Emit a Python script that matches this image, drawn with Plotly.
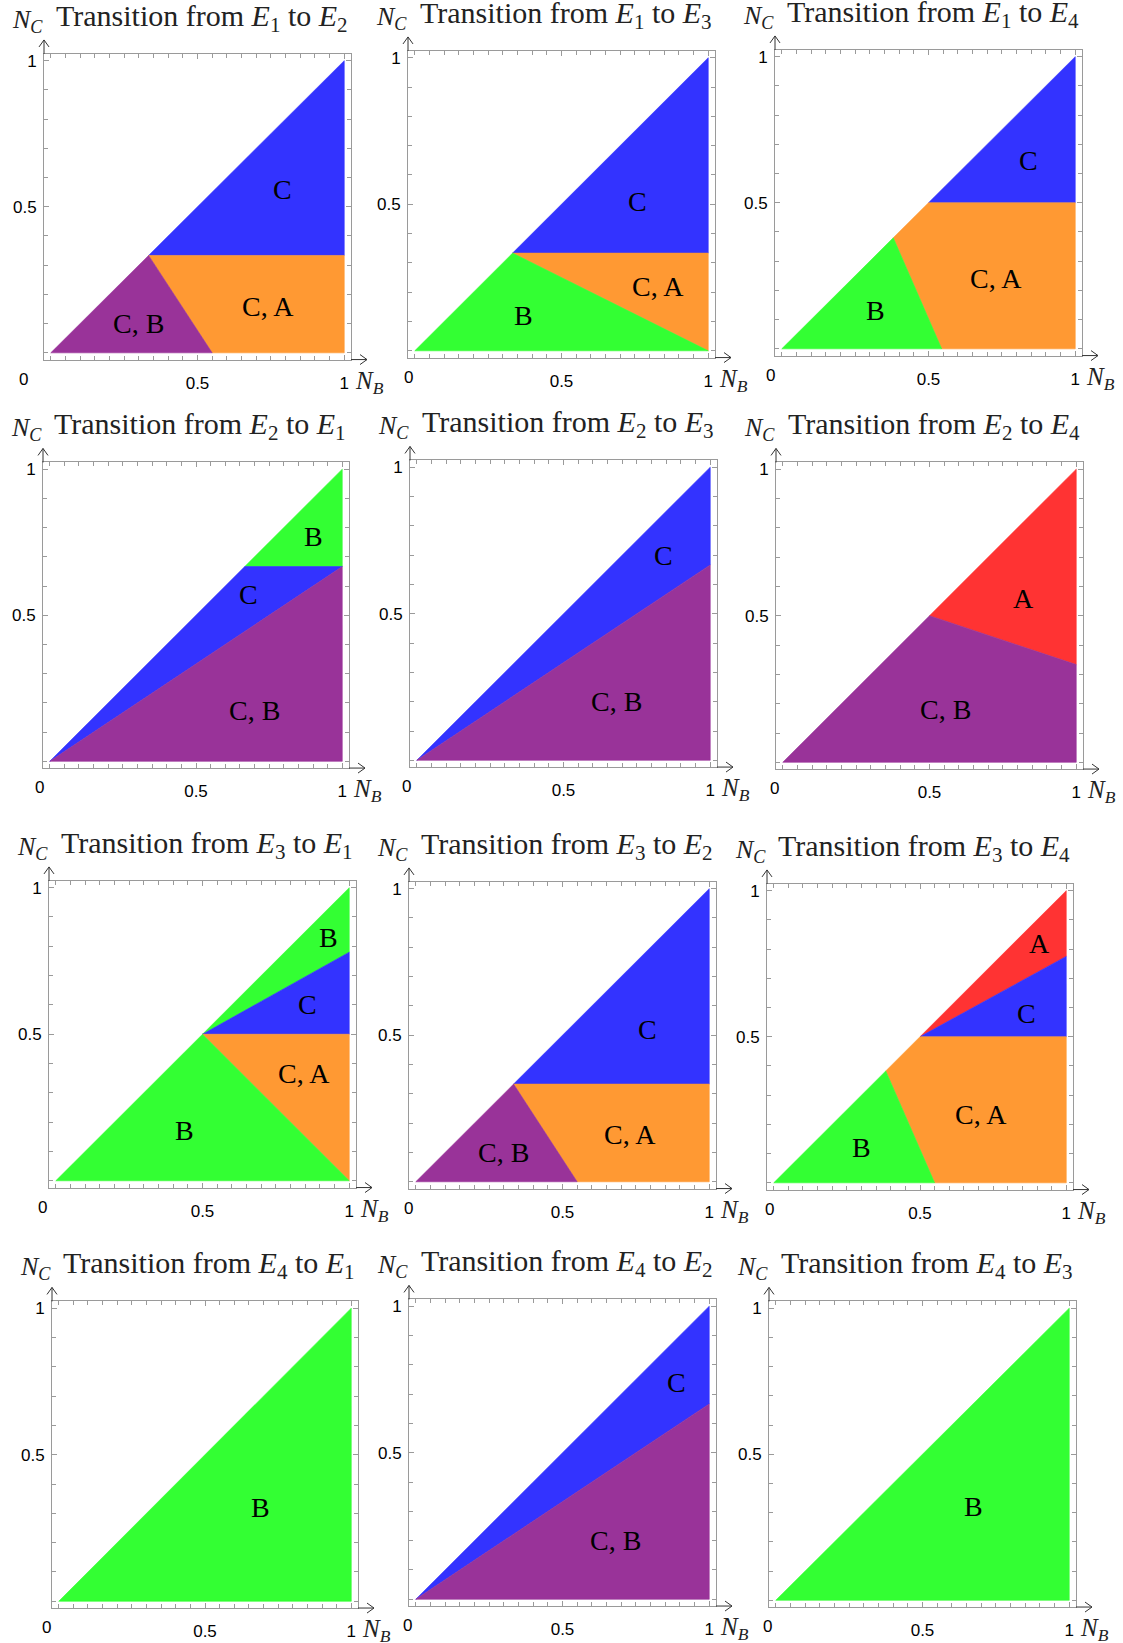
import plotly.graph_objects as go

W, H = 1123, 1643

# ---------------- data ----------------
# panel titles: (from, to)
TRANSITIONS = [("1", "2"), ("1", "3"), ("1", "4"),
               ("2", "1"), ("2", "3"), ("2", "4"),
               ("3", "1"), ("3", "2"), ("3", "4"),
               ("4", "1"), ("4", "2"), ("4", "3")]

# region polygons (N_B, N_C vertices) per panel
R_E1_E2 = [("C", [(1/3, 1/3), (1, 1), (1, 1/3)]),
           ("C, A", [(1/3, 1/3), (1, 1/3), (1, 0), (0.55, 0)]),
           ("C, B", [(0, 0), (1/3, 1/3), (0.55, 0)])]
R_E1_E3 = [("C", [(1/3, 1/3), (1, 1), (1, 1/3)]),
           ("C, A", [(1/3, 1/3), (1, 1/3), (1, 0)]),
           ("B", [(0, 0), (1/3, 1/3), (1, 0)])]
R_E1_E4 = [("C", [(0.5, 0.5), (1, 1), (1, 0.5)]),
           ("C, A", [(0.38, 0.38), (0.5, 0.5), (1, 0.5), (1, 0), (0.545, 0)]),
           ("B", [(0, 0), (0.38, 0.38), (0.545, 0)])]
R_E2_E1 = [("B", [(2/3, 2/3), (1, 1), (1, 2/3)]),
           ("C", [(0, 0), (2/3, 2/3), (1, 2/3)]),
           ("C, B", [(0, 0), (1, 2/3), (1, 0)])]
R_E2_E3 = [("C", [(0, 0), (1, 1), (1, 2/3)]),
           ("C, B", [(0, 0), (1, 2/3), (1, 0)])]
R_E2_E4 = [("A", [(0.5, 0.5), (1, 1), (1, 1/3)]),
           ("C, B", [(0, 0), (0.5, 0.5), (1, 1/3), (1, 0)])]
R_E3_E1 = [("B", [(0.5, 0.5), (1, 1), (1, 0.78)]),
           ("C", [(0.5, 0.5), (1, 0.78), (1, 0.5)]),
           ("C, A", [(0.5, 0.5), (1, 0.5), (1, 0)]),
           ("B", [(0, 0), (0.5, 0.5), (1, 0)])]
R_E3_E2 = [("C", [(1/3, 1/3), (1, 1), (1, 1/3)]),
           ("C, A", [(1/3, 1/3), (1, 1/3), (1, 0), (0.55, 0)]),
           ("C, B", [(0, 0), (1/3, 1/3), (0.55, 0)])]
R_E3_E4 = [("A", [(0.5, 0.5), (1, 1), (1, 0.775)]),
           ("C", [(0.5, 0.5), (1, 0.775), (1, 0.5)]),
           ("C, A", [(0.383, 0.383), (0.5, 0.5), (1, 0.5), (1, 0), (0.55, 0)]),
           ("B", [(0, 0), (0.383, 0.383), (0.55, 0)])]
R_E4_E1 = [("B", [(0, 0), (1, 1), (1, 0)])]
R_E4_E2 = [("C", [(0, 0), (1, 1), (1, 2/3)]),
           ("C, B", [(0, 0), (1, 2/3), (1, 0)])]
R_E4_E3 = [("B", [(0, 0), (1, 1), (1, 0)])]

REGIONS = [R_E1_E2, R_E1_E3, R_E1_E4, R_E2_E1, R_E2_E3, R_E2_E4,
           R_E3_E1, R_E3_E2, R_E3_E4, R_E4_E1, R_E4_E2, R_E4_E3]

# region labels (text, N_B, N_C)
L_E1_E2 = [("C", 0.79, 0.56), ("C, A", 0.74, 0.16), ("C, B", 0.30, 0.10)]
L_E1_E3 = [("C", 0.76, 0.51), ("C, A", 0.83, 0.22), ("B", 0.37, 0.12)]
L_E1_E4 = [("C", 0.84, 0.645), ("C, A", 0.73, 0.24), ("B", 0.32, 0.13)]
L_E2_E1 = [("B", 0.90, 0.77), ("C", 0.68, 0.57), ("C, B", 0.70, 0.175)]
L_E2_E3 = [("C", 0.84, 0.70), ("C, B", 0.68, 0.20)]
L_E2_E4 = [("A", 0.82, 0.56), ("C, B", 0.555, 0.18)]
L_E3_E1 = [("B", 0.93, 0.83), ("C", 0.857, 0.60), ("C, A", 0.847, 0.365), ("B", 0.44, 0.17)]
L_E3_E2 = [("C", 0.79, 0.52), ("C, A", 0.73, 0.16), ("C, B", 0.30, 0.10)]
L_E3_E4 = [("A", 0.91, 0.82), ("C", 0.865, 0.58), ("C, A", 0.71, 0.235), ("B", 0.30, 0.12)]
L_E4_E1 = [("B", 0.69, 0.32)]
L_E4_E2 = [("C", 0.89, 0.74), ("C, B", 0.68, 0.20)]
L_E4_E3 = [("B", 0.675, 0.32)]

LABELS = [L_E1_E2, L_E1_E3, L_E1_E4, L_E2_E1, L_E2_E3, L_E2_E4,
          L_E3_E1, L_E3_E2, L_E3_E4, L_E4_E1, L_E4_E2, L_E4_E3]

# axis ticks (labelled) and frame tick marks (unlabelled)
X_TICKVALS = [0.5, 1.0]
X_TICKTEXT = ["0.5", "1"]
Y_TICKVALS = [0.5, 1.0]
Y_TICKTEXT = ["0.5", "1"]
X_MINOR = [round(0.05 * k, 2) for k in range(0, 21)]
Y_MINOR = [round(0.1 * k, 1) for k in range(0, 11)]

# ---------------- style / layout ----------------
COLORS = {"C": "#3333FF", "C, A": "#FF9933", "C, B": "#993399",
          "B": "#33FF33", "A": "#FF3333"}

# frame boxes in pixels (left, top, right, bottom)
FRAMES = [(44, 52, 351, 358), (408, 49, 715, 356), (775, 48, 1082, 354),
          (43, 461, 349, 767), (410, 459, 717, 766), (776, 461, 1083, 768),
          (49, 880, 356, 1187), (409, 881, 716, 1188), (767, 883, 1073, 1189),
          (52, 1301, 358, 1608), (409, 1299, 716, 1606), (769, 1301, 1076, 1607)]
ZERO_SHIFT = [-27, -6, -11, -10, -10, -8, -13, -7, -4, -12, -8, -8]

RNG = [-0.023, 1.023]
SERIF = "Liberation Serif, Times New Roman, serif"
SANS = "Liberation Sans, Arial, sans-serif"
FRAME_COL = "#9a9a9a"
AX_COL = "#333333"


def px(x):
    return x / W


def py(y):
    return 1 - y / H


fig = go.Figure()
annotations = []
shapes = []

for i in range(12):
    n = i + 1
    xa = "x" if n == 1 else f"x{n}"
    ya = "y" if n == 1 else f"y{n}"
    l, t, r, b = FRAMES[i]

    for name, verts in REGIONS[i]:
        xs = [v[0] for v in verts] + [verts[0][0]]
        ys = [v[1] for v in verts] + [verts[0][1]]
        fig.add_trace(go.Scatter(
            x=xs, y=ys, mode="lines", fill="toself",
            fillcolor=COLORS[name], line=dict(color=COLORS[name], width=0.6),
            xaxis=xa, yaxis=ya, showlegend=False, hoverinfo="skip"))

    for text, lx, ly in LABELS[i]:
        annotations.append(dict(
            text=text, x=lx, y=ly, xref=xa, yref=ya, showarrow=False,
            font=dict(family=SERIF, size=28, color="black"),
            xanchor="center", yanchor="middle"))

    axis_common = dict(
        range=RNG, showgrid=False, zeroline=False, showline=True,
        linecolor=FRAME_COL, linewidth=1, mirror="ticks", ticks="inside",
        ticklen=5, tickwidth=1, tickcolor=FRAME_COL, fixedrange=True,
        tickfont=dict(family=SANS, size=17, color="black"),
        tickmode="array")
    fig.layout[f"xaxis{n}" if n > 1 else "xaxis"] = dict(
        axis_common, domain=[px(l), px(r)], anchor=ya,
        tickvals=X_TICKVALS, ticktext=X_TICKTEXT, ticklabelstandoff=8,
        minor=dict(ticks="inside", ticklen=4, tickcolor=FRAME_COL,
                   tickmode="array", tickvals=X_MINOR))
    fig.layout[f"yaxis{n}" if n > 1 else "yaxis"] = dict(
        axis_common, domain=[py(b), py(t)], anchor=xa,
        tickvals=Y_TICKVALS, ticktext=Y_TICKTEXT, ticklabelstandoff=3,
        minor=dict(ticks="inside", ticklen=4, tickcolor=FRAME_COL,
                   tickmode="array", tickvals=Y_MINOR))

    # origin label "0"
    annotations.append(dict(
        text="0", x=0, y=RNG[0], xref=xa, yref=ya, showarrow=False,
        xshift=ZERO_SHIFT[i], yshift=-8, xanchor="center", yanchor="top",
        font=dict(family=SANS, size=17, color="black")))

    # title
    a, c = TRANSITIONS[i]
    annotations.append(dict(
        text=f"Transition from <i>E</i><sub>{a}</sub> to <i>E</i><sub>{c}</sub>",
        x=px((l + r) / 2 + 4), y=py(t - 15), xref="paper", yref="paper",
        showarrow=False, xanchor="center", yanchor="bottom",
        font=dict(family=SERIF, size=30, color="#222222")))

    # axis labels
    annotations.append(dict(
        text="<i>N</i><sub><i>C</i></sub>", x=px(l + 1), y=py(t - 15),
        xref="paper", yref="paper", showarrow=False,
        xanchor="right", yanchor="bottom",
        font=dict(family=SERIF, size=26, color="#222222")))
    annotations.append(dict(
        text="<i>N</i><sub><i>B</i></sub>", x=px(r + 2), y=py(b + 5),
        xref="paper", yref="paper", showarrow=False,
        xanchor="left", yanchor="top",
        font=dict(family=SERIF, size=25, color="#222222")))

    # axis arrows
    tipy = t - 14
    shapes.append(dict(type="line", xref="paper", yref="paper",
                       x0=px(l), y0=py(t), x1=px(l), y1=py(tipy),
                       line=dict(color=AX_COL, width=1)))
    shapes.append(dict(type="path", xref="paper", yref="paper",
                       path=f"M {px(l-5)},{py(tipy+7)} L {px(l)},{py(tipy)} L {px(l+5)},{py(tipy+7)}",
                       line=dict(color=AX_COL, width=1)))
    tipx = r + 16
    shapes.append(dict(type="line", xref="paper", yref="paper",
                       x0=px(r), y0=py(b), x1=px(tipx), y1=py(b),
                       line=dict(color=AX_COL, width=1)))
    shapes.append(dict(type="path", xref="paper", yref="paper",
                       path=f"M {px(tipx-7)},{py(b-5)} L {px(tipx)},{py(b)} L {px(tipx-7)},{py(b+5)}",
                       line=dict(color=AX_COL, width=1)))

fig.update_layout(
    width=W, height=H, margin=dict(l=0, r=0, t=0, b=0, pad=0),
    paper_bgcolor="white", plot_bgcolor="white",
    annotations=annotations, shapes=shapes, showlegend=False)

fig.write_html("out.html", config={"displayModeBar": False},
               post_script="document.body.style.margin='0px';")
